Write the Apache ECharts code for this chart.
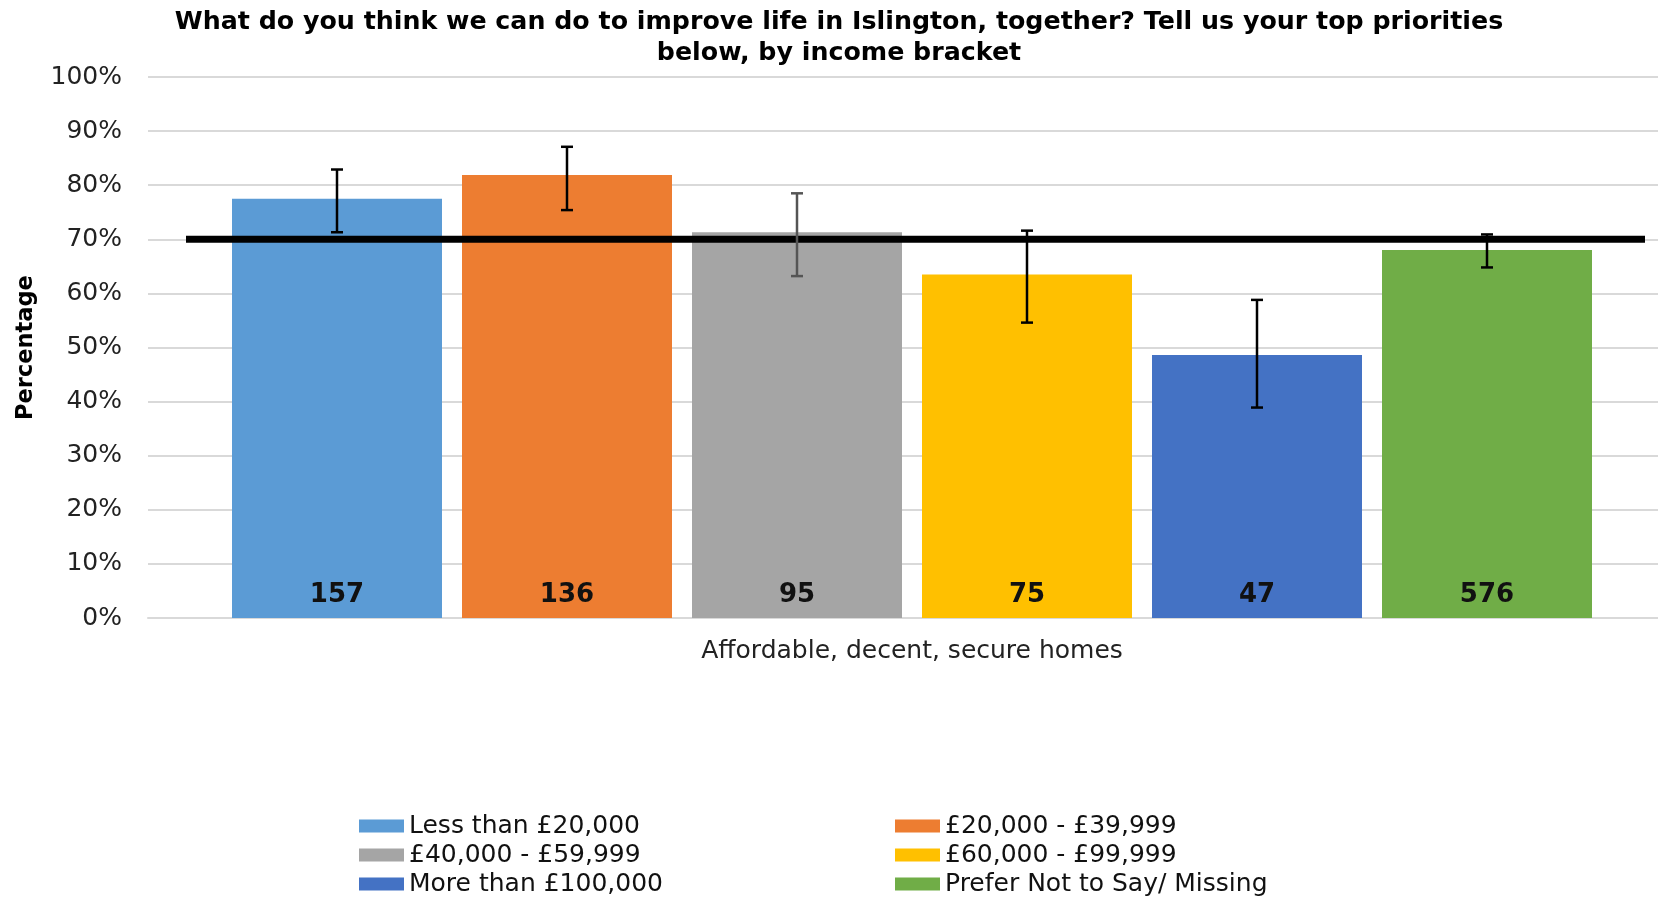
<!DOCTYPE html>
<html>
<head>
<meta charset="utf-8">
<script src="https://cdn.jsdelivr.net/npm/echarts@6/dist/echarts.min.js"></script>
<style>
html,body{margin:0;padding:0;background:#fff;}
#chart{width:1658px;height:898px;}
</style>
</head>
<body>
<div id="chart"></div>
<script>
// ---- data ----
const category = ['Affordable, decent, secure homes'];
const seriesNames = ['Less than £20,000', '£20,000 - £39,999', '£40,000 - £59,999', '£60,000 - £99,999', 'More than £100,000', 'Prefer Not to Say/ Missing'];
const values = [77.5, 81.9, 71.3, 63.5, 48.6, 68.0];
const errLow = [71.3, 75.4, 63.2, 54.6, 38.9, 64.8];
const errHigh = [82.9, 87.1, 78.5, 71.6, 58.8, 70.9];
const counts = [157, 136, 95, 75, 47, 576];
const target = 70;
const yTicks = [0, 10, 20, 30, 40, 50, 60, 70, 80, 90, 100];

// ---- style ----
const colors = ['#5B9BD5', '#ED7D31', '#A5A5A5', '#FFC000', '#4472C4', '#70AD47'];
const errColors = ['#000', '#000', '#555', '#000', '#000', '#000'];
const FONT = 'DejaVu Sans';
const BAR_W = 210, BAR_GAP = 20;

const chart = echarts.init(document.getElementById('chart'));

const barSeries = seriesNames.map((name, i) => ({
  name: name,
  type: 'bar',
  xAxisIndex: 0, yAxisIndex: 0,
  barWidth: BAR_W,
  barGap: (BAR_GAP / BAR_W * 100) + '%',
  itemStyle: { color: colors[i] },
  label: {
    show: true,
    position: 'insideBottom',
    distance: 10,
    formatter: () => String(counts[i]),
    fontFamily: FONT, fontSize: 26, fontWeight: 'bold', color: '#111'
  },
  data: [values[i]],
  z: 2
}));

const errorSeries = {
  type: 'custom',
  xAxisIndex: 0, yAxisIndex: 0,
  data: values.map((v, i) => [0, errLow[i], errHigh[i], i]),
  renderItem: function (params, api) {
    const i = api.value(3);
    const lo = api.coord([0, api.value(1)]);
    const hi = api.coord([0, api.value(2)]);
    const n = values.length;
    const x = lo[0] + (i - (n - 1) / 2) * (BAR_W + BAR_GAP);
    const cap = 6;
    const st = { stroke: errColors[i], lineWidth: 2.5 };
    return {
      type: 'group',
      children: [
        { type: 'line', shape: { x1: x, y1: lo[1], x2: x, y2: hi[1] }, style: st },
        { type: 'line', shape: { x1: x - cap, y1: lo[1], x2: x + cap, y2: lo[1] }, style: st },
        { type: 'line', shape: { x1: x - cap, y1: hi[1], x2: x + cap, y2: hi[1] }, style: st }
      ]
    };
  },
  z: 5,
  silent: true
};

const targetSeries = {
  type: 'line',
  xAxisIndex: 1, yAxisIndex: 1,
  data: [[0, target], [1, target]],
  symbol: 'none',
  lineStyle: { color: '#000', width: 7 },
  z: 4,
  silent: true
};

const legendText = { fontFamily: FONT, fontSize: 25, color: '#111', lineHeight: 26 };

chart.setOption({
  animation: false,
  backgroundColor: '#fff',
  title: {
    text: 'What do you think we can do to improve life in Islington, together? Tell us your top priorities\nbelow, by income bracket',
    left: 839,
    textAlign: 'center',
    top: 7,
    padding: 0,
    textStyle: { fontFamily: FONT, fontSize: 25.3, fontWeight: 'bold', color: '#000', lineHeight: 31 }
  },
  legend: [
    {
      data: [seriesNames[0], seriesNames[2], seriesNames[4]],
      orient: 'vertical', left: 359, top: 813, padding: 0,
      itemWidth: 45, itemHeight: 13, itemGap: 3,
      textStyle: legendText, icon: 'rect'
    },
    {
      data: [seriesNames[1], seriesNames[3], seriesNames[5]],
      orient: 'vertical', left: 895, top: 813, padding: 0,
      itemWidth: 45, itemHeight: 13, itemGap: 3,
      textStyle: legendText, icon: 'rect'
    }
  ],
  grid: [
    { left: 148, width: 1528, top: 77, bottom: 280, containLabel: false, outerBoundsMode: 'none' },
    { left: 186, right: 13, top: 77, bottom: 280, containLabel: false, outerBoundsMode: 'none' }
  ],
  xAxis: [
    {
      type: 'category', data: category, gridIndex: 0,
      axisLine: { lineStyle: { color: '#d9d9d9', width: 2 } },
      axisTick: { show: false },
      axisLabel: { fontFamily: FONT, fontSize: 25, color: '#222', margin: 21 }
    },
    { type: 'value', gridIndex: 1, min: 0, max: 1, show: false }
  ],
  yAxis: [
    {
      type: 'value', gridIndex: 0, min: yTicks[0], max: yTicks[yTicks.length - 1], interval: 10,
      name: 'Percentage', nameLocation: 'middle', nameGap: 110, nameRotate: 90,
      nameTextStyle: { fontFamily: FONT, fontSize: 22.5, fontWeight: 'bold', color: '#000' },
      axisLine: { show: false }, axisTick: { show: false },
      splitLine: { lineStyle: { color: '#d9d9d9', width: 2 } },
      axisLabel: { fontFamily: FONT, fontSize: 25, color: '#222', margin: 26, formatter: '{value}%' }
    },
    { type: 'value', gridIndex: 1, min: 0, max: 100, show: false }
  ],
  series: [...barSeries, targetSeries, errorSeries]
});
</script>
</body>
</html>
